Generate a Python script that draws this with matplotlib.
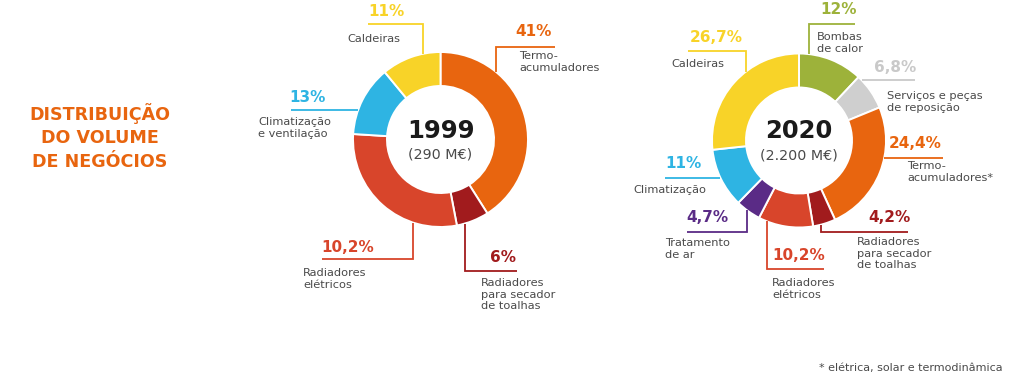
import matplotlib
matplotlib.use("Agg")
import matplotlib.pyplot as plt
import numpy as np

# ---------------- data ----------------
title_lines = ["DISTRIBUIÇÃO", "DO VOLUME", "DE NEGÓCIOS"]
footnote = "* elétrica, solar e termodinâmica"

years = ["1999", "2020"]
totals = ["(290 M€)", "(2.200 M€)"]

cats_1999 = ["Termo-\nacumuladores", "Radiadores\npara secador\nde toalhas",
             "Radiadores\nelétricos", "Climatização\ne ventilação", "Caldeiras"]
values_1999 = [41, 6, 29, 13, 11]          # slice sizes as drawn
pct_1999 = ["41%", "6%", "10,2%", "13%", "11%"]

cats_2020 = ["Bombas\nde calor", "Serviços e peças\nde reposição", "Termo-\nacumuladores*",
             "Radiadores\npara secador\nde toalhas", "Radiadores\nelétricos",
             "Tratamento\nde ar", "Climatização", "Caldeiras"]
values_2020 = [12, 6.8, 24.4, 4.2, 10.2, 4.7, 11, 26.7]
pct_2020 = ["12%", "6,8%", "24,4%", "4,2%", "10,2%", "4,7%", "11%", "26,7%"]

# ---------------- style ----------------
ORANGE = "#E8650F"
YELLOW = "#F8D328"
BLUE = "#2EB4E3"
RED = "#D8452B"
DRED = "#A11B1D"
GREEN = "#9DB23A"
GRAY = "#CFCFCF"
PURPLE = "#5A2B86"
TXT = "#4A4A4A"

colors_1999 = [ORANGE, DRED, RED, BLUE, YELLOW]
colors_2020 = [GREEN, GRAY, ORANGE, DRED, RED, PURPLE, BLUE, YELLOW]
pct_colors_2020 = [GREEN, "#C9C9C9", ORANGE, DRED, RED, PURPLE, BLUE, YELLOW]

FONT = "DejaVu Sans"

W, H = 1024, 381
fig = plt.figure(figsize=(W / 100, H / 100), dpi=100)
ax = fig.add_axes([0, 0, 1, 1])

# layout: (pct x, pct y, line y, far x, elbow x or None, desc x, desc first-line y)
layout_1999 = [
    (515, 32, 46.7, 555, 496, 519, 56),
    (490, 257, 270.7, 517, 465, 481, 283),
    (321, 247, 259.3, 322, 413, 303, 273),
    (289, 97, 110, 291, None, 258, 122),
    (368, 12, 24.3, 368, 423, 347, 39),
]
layout_2020 = [
    (820, 10, 24, 855, 809, 817, 37),
    (874, 67, 80, 915, None, 887, 96),
    (889, 144, 157.7, 943, None, 907, 166),
    (868, 218, 231.7, 908, 821, 857, 242),
    (772, 255, 269.3, 824, 767, 772, 283),
    (686, 218, 232.3, 687, 747, 665, 243),
    (665, 163, 177.7, 665, None, 633, 190),
    (690, 37, 50.7, 688, 746, 671, 64),
]

LINE_H = 11.6


def donut(cx, cy, R, width, values, colors, cats, pcts, pcolors, layout, year, total):
    ax.pie(values, colors=colors, center=(cx, cy), radius=R, startangle=-90,
           counterclock=True, normalize=True,
           wedgeprops=dict(width=width, edgecolor="white", linewidth=1.4))
    ax.text(cx, cy - 9, year, ha="center", va="center", fontsize=17.5,
            fontweight="bold", color="#1a1a1a", family=FONT)
    ax.text(cx, cy + 15, total, ha="center", va="center", fontsize=10.3,
            color=TXT, family=FONT)
    for cat, pct, pc, (px, py, ly, fx, ex, dx, dy) in zip(cats, pcts, pcolors, layout):
        if ex is None:
            off = np.sqrt(max(R ** 2 - (ly - cy) ** 2, 0))
            nx = cx + off if fx > cx else cx - off
            ax.plot([fx, nx], [ly, ly], color=pc, lw=1.3, solid_capstyle="butt")
        else:
            off = np.sqrt(max(R ** 2 - (ex - cx) ** 2, 0))
            ry = cy - off if ly < cy else cy + off
            ax.plot([fx, ex, ex], [ly, ly, ry], color=pc, lw=1.3,
                    solid_capstyle="butt", solid_joinstyle="miter")
        ax.text(px, py, pct, ha="left", va="center", fontsize=11,
                fontweight="bold", color=pc, family=FONT)
        for i, line in enumerate(cat.split("\n")):
            ax.text(dx, dy + i * LINE_H, line, ha="left", va="center",
                    fontsize=8.2, color=TXT, family=FONT)


donut(440.5, 139.5, 87.5, 34, values_1999, colors_1999, cats_1999, pct_1999,
      colors_1999, layout_1999, years[0], totals[0])
donut(799, 140.5, 87, 34, values_2020, colors_2020, cats_2020, pct_2020,
      pct_colors_2020, layout_2020, years[1], totals[1])

for i, t in enumerate(title_lines):
    ax.text(100, 114 + i * 24, t, ha="center", va="center", fontsize=12.6,
            fontweight="bold", color=ORANGE, family=FONT)

ax.text(1003, 368, footnote, ha="right", va="center", fontsize=8.0,
        color=TXT, family=FONT)

ax.set_xlim(0, W)
ax.set_ylim(H, 0)
ax.set_aspect("equal")
ax.axis("off")

fig.savefig("out.png", dpi=100)
